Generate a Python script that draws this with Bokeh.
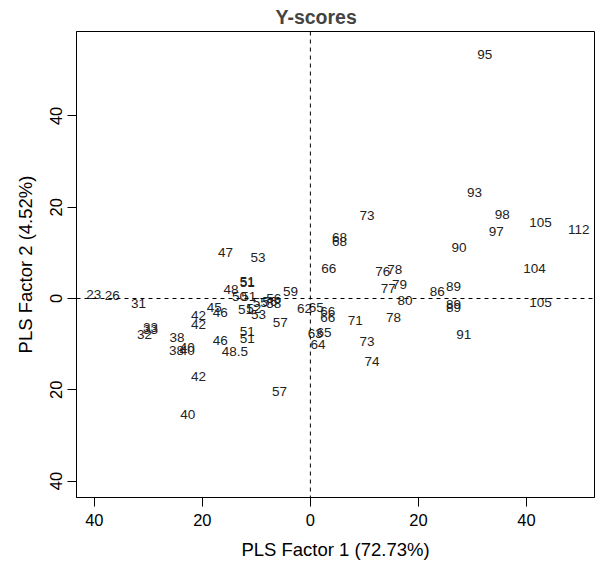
from bokeh.plotting import figure
from bokeh.models import ColumnDataSource, Span, FixedTicker, Range1d
from bokeh.embed import file_html
from bokeh.resources import INLINE
from bokeh.core.properties import value

# Sample labels and their PLS scores (factor 1, factor 2)
labels = ["95", "93", "73", "98", "105", "112", "97", "68", "68", "90",
          "66", "76", "78", "104", "77", "79", "86", "89", "80", "105",
          "89", "89", "78", "71", "91", "73", "74", "62", "65", "66",
          "66", "63", "65", "64",
          "23", "26", "31", "33", "33", "32", "38", "38", "40", "40",
          "42", "42", "42", "40", "45", "46", "46", "48.5", "51", "51",
          "47", "53", "51", "51", "48", "50", "51", "51", "52", "55",
          "53", "56", "58", "56", "59", "57", "57"]
factor1 = [32.3, 30.4, 10.5, 35.5, 42.6, 49.7, 34.4, 5.4, 5.4, 27.5,
           3.4, 13.4, 15.6, 41.5, 14.4, 16.5, 23.5, 26.5, 17.5, 42.6,
           26.5, 26.5, 15.4, 8.3, 28.4, 10.5, 11.4, -1.1, 1.1, 3.2,
           3.2, 0.9, 2.5, 1.4,
           -40.1, -36.7, -31.8, -29.6, -29.6, -30.7, -24.7, -24.8, -22.8, -22.8,
           -20.7, -20.7, -20.7, -22.7, -17.8, -16.7, -16.7, -14.0, -11.7, -11.7,
           -15.7, -9.7, -11.7, -11.7, -14.7, -13.1, -11.4, -12.0, -10.5, -9.3,
           -9.6, -6.8, -6.8, -7.5, -3.7, -5.6, -5.7]
factor2 = [53.4, 23.2, 18.2, 18.4, 16.6, 15.1, 14.7, 13.3, 12.5, 11.2,
           6.5, 6.0, 6.4, 6.5, 2.3, 3.0, 1.5, 2.6, -0.4, -0.9,
           -1.3, -1.9, -4.1, -4.8, -7.9, -9.4, -13.7, -2.1, -1.9, -2.8,
           -4.1, -7.7, -7.5, -10.1,
           0.9, 0.7, -1.2, -6.3, -6.8, -7.9, -8.5, -11.4, -10.8, -11.3,
           -3.7, -5.7, -17.0, -25.4, -1.9, -3.1, -9.2, -11.7, -7.2, -8.8,
           10.0, 8.9, 3.7, 3.5, 2.0, 0.5, 0.5, -2.3, -2.2, -0.8,
           -3.4, 0.1, -1.2, -0.6, 1.5, -5.3, -20.4]

x_ticks = [-40, -20, 0, 20, 40]
y_ticks = [-40, -20, 0, 20, 40]
tick_text = {-40: "40", -20: "20", 0: "0", 20: "20", 40: "40"}

FONT = "Liberation Sans"

p = figure(width=596, height=563, output_backend="svg", toolbar_location=None,
           x_range=Range1d(-43.3, 52.6), y_range=Range1d(-43.6, 58.5),
           min_border_left=76, min_border_right=2, min_border_top=31,
           min_border_bottom=66)
p.title.text = "Y-scores"
p.title.text_font = FONT
p.title.text_font_size = "19.5px"
p.title.text_font_style = "bold"
p.title.align = "left"
p.title.offset = 199
p.title.standoff = 7

p.grid.visible = False
p.outline_line_color = "black"
p.outline_line_width = 1
p.background_fill_color = "white"
p.border_fill_color = "white"

for ax in (p.xaxis[0], p.yaxis[0]):
    ax.major_label_text_font = FONT
    ax.major_label_text_font_size = "16.5px"
    ax.major_label_text_color = "black"
    ax.axis_label_text_font = FONT
    ax.axis_label_text_font_size = "18.5px"
    ax.axis_label_text_font_style = "normal"
    ax.axis_label_text_color = "black"
    ax.minor_tick_line_color = None
    ax.major_tick_out = 9
    ax.major_tick_in = 0
    ax.major_tick_line_color = "black"
    ax.axis_line_color = "black"
    ax.major_label_overrides = tick_text

p.xaxis[0].ticker = FixedTicker(ticks=x_ticks)
p.yaxis[0].ticker = FixedTicker(ticks=y_ticks)
p.xaxis[0].axis_label = "PLS Factor 1 (72.73%)"
p.yaxis[0].axis_label = "PLS Factor 2 (4.52%)"
p.yaxis[0].major_label_orientation = "parallel"
p.xaxis[0].major_label_standoff = 7
p.yaxis[0].major_label_standoff = 5
p.xaxis[0].axis_label_standoff = 10
p.yaxis[0].axis_label_standoff = 12

p.add_layout(Span(location=0, dimension="height", line_color="black",
                  line_dash="4 4", line_width=1))
p.add_layout(Span(location=0, dimension="width", line_color="black",
                  line_dash="4 4", line_width=1))

src = ColumnDataSource(dict(x=factor1, y=factor2, t=labels))
p.text(x="x", y="y", text="t", source=src, text_align="center",
       text_baseline="middle", text_font=value(FONT),
       text_font_size="13.5px", text_color="#222222")

open("out.html", "w").write(file_html(p, INLINE))
